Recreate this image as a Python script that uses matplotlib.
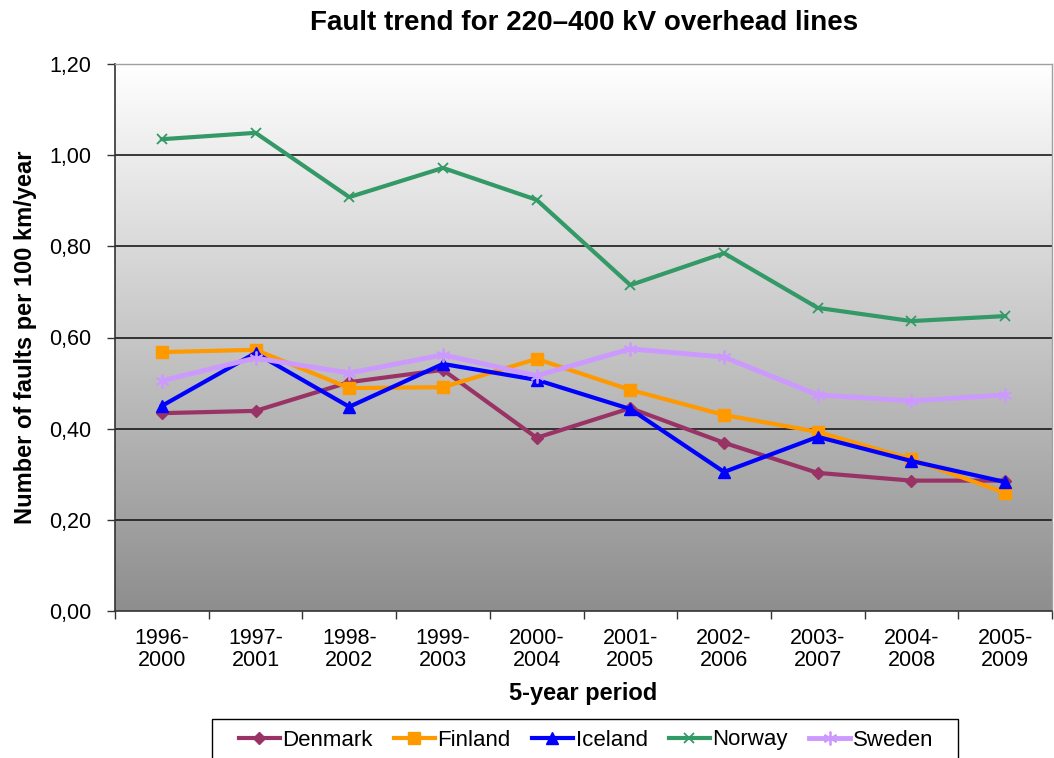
import matplotlib
matplotlib.use("Agg")
import matplotlib.pyplot as plt
import numpy as np
from matplotlib.ticker import FixedLocator, FuncFormatter
from matplotlib.colors import LinearSegmentedColormap
from matplotlib.patches import Rectangle

plt.rcParams['font.family'] = ['Liberation Sans', 'DejaVu Sans']

periods = ["1996-\n2000", "1997-\n2001", "1998-\n2002", "1999-\n2003", "2000-\n2004",
           "2001-\n2005", "2002-\n2006", "2003-\n2007", "2004-\n2008", "2005-\n2009"]
denmark = [0.434, 0.439, 0.502, 0.529, 0.380, 0.445, 0.369, 0.303, 0.286, 0.286]
finland = [0.568, 0.573, 0.489, 0.491, 0.553, 0.485, 0.430, 0.393, 0.333, 0.259]
iceland = [0.450, 0.566, 0.448, 0.542, 0.507, 0.443, 0.305, 0.382, 0.329, 0.283]
norway = [1.035, 1.049, 0.908, 0.972, 0.902, 0.715, 0.785, 0.665, 0.636, 0.647]
sweden = [0.505, 0.555, 0.522, 0.562, 0.516, 0.575, 0.557, 0.474, 0.461, 0.474]

series = [
    ("Denmark", denmark, "#993366", "D", 6),
    ("Finland", finland, "#FF9900", "s", 8),
    ("Iceland", iceland, "#0000FF", "^", 8),
    ("Norway", norway, "#339966", "x", 7),
    ("Sweden", sweden, "#CC99FF", (6, 2, 0), 10),
]

W, H = 1054, 758
fig = plt.figure(figsize=(W / 100, H / 100), dpi=100)
ax = fig.add_axes([115/W, 1 - 611/H, (1052-115)/W, (611-64)/H])

x = np.arange(len(periods))
ax.set_xlim(-0.5, len(periods) - 0.5)
ax.set_ylim(0, 1.2)

# gradient background
grad = np.linspace(0, 1, 256).reshape(-1, 1)
cmap = LinearSegmentedColormap.from_list("bg", ["#8e8e8e", "#ffffff"])
ax.imshow(grad, aspect='auto', cmap=cmap, origin='lower',
          extent=[0, 1, 0, 1], transform=ax.transAxes, zorder=0)

for yv in [0.2, 0.4, 0.6, 0.8, 1.0]:
    ax.axhline(yv, color="#1a1a1a", lw=1.2, zorder=1)

for name, vals, col, mk, ms in series:
    if mk == "x":
        ax.plot(x, vals, color=col, lw=3, marker=mk, ms=ms, mew=1.3, label=name, zorder=3)
    elif isinstance(mk, tuple):
        ax.plot(x, vals, color=col, lw=3.5, marker=mk, ms=ms, mew=1.3, label=name, zorder=3)
    else:
        ax.plot(x, vals, color=col, lw=3, marker=mk, ms=ms, mec=col, label=name, zorder=3)

ax.set_xticks(x)
ax.set_xticklabels(periods, fontsize=15.5, linespacing=1.1)
ax.xaxis.set_minor_locator(FixedLocator(np.arange(-0.5, len(periods), 1)))
ax.tick_params(axis='x', which='major', length=0, pad=12)
ax.tick_params(axis='x', which='minor', length=6, width=1, color="#333333", direction='out')
ax.set_yticks([0, 0.2, 0.4, 0.6, 0.8, 1.0, 1.2])
ax.yaxis.set_major_formatter(FuncFormatter(lambda v, p: f"{v:.2f}".replace(".", ",")))
ax.tick_params(axis='y', labelsize=15.5, length=6, width=1, color="#333333", pad=11)

for s in ["top", "right"]:
    ax.spines[s].set_color("#a0a0a0")
    ax.spines[s].set_linewidth(1)
for s in ["left", "bottom"]:
    ax.spines[s].set_color("#333333")
    ax.spines[s].set_linewidth(1.2)

ax.set_xlabel("5-year period", fontsize=17, fontweight="bold", labelpad=8)
ax.set_ylabel("Number of faults per 100 km/year", fontsize=17, fontweight="bold", labelpad=9)
fig.suptitle("Fault trend for 220\u2013400 kV overhead lines", fontsize=20, fontweight="bold",
             x=584/W, y=1 - 23/H, va="center")

# legend box (extends past the bottom edge like the reference)
fig.patches.append(Rectangle((212/W, 1 - 765/H), (958-212)/W, 46/H, transform=fig.transFigure,
                             facecolor="white", edgecolor="#000000", lw=1, zorder=0))
leg = fig.legend(loc="center", bbox_to_anchor=(586/W, 1 - 740/H), ncol=5,
                 fontsize=16, frameon=False,
                 handlelength=1.85, handletextpad=0.12, columnspacing=0.95, borderpad=0,
                 borderaxespad=0)

fig.savefig("out.png", dpi=100)
